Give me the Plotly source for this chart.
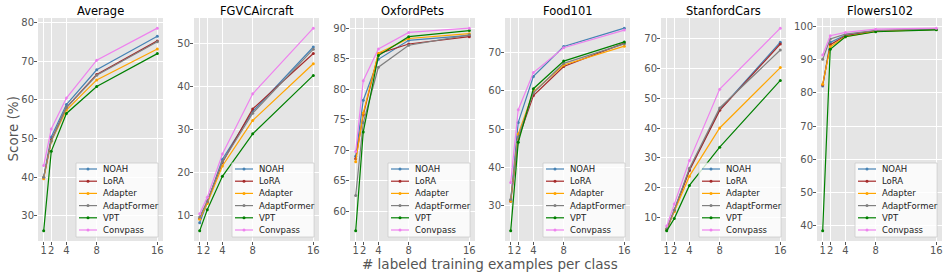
import plotly.graph_objects as go

shots = [1, 2, 4, 8, 16]
series_names = ["NOAH", "LoRA", "Adapter", "AdaptFormer", "VPT", "Convpass"]
series_colors = ["#4682b4", "#a52a2a", "#ffa500", "#808080", "#008000", "#ee82ee"]
dataset_titles = ["Average", "FGVCAircraft", "OxfordPets", "Food101", "StanfordCars", "Flowers102"]
ytick_steps = [10, 10, 5, 10, 10, 10]

# rows follow series_names order
average = [
    [40.0, 50.4, 58.8, 67.8, 76.5],
    [39.8, 49.6, 58.0, 66.6, 75.3],
    [39.6, 49.3, 57.4, 65.2, 73.2],
    [40.0, 49.4, 58.0, 66.4, 75.1],
    [26.1, 46.7, 56.5, 63.5, 72.0],
    [43.0, 52.5, 60.5, 70.3, 78.6],
]
fgvc_aircraft = [
    [8.3, 13.0, 23.1, 34.2, 49.2],
    [9.3, 13.2, 22.3, 34.8, 47.7],
    [9.1, 12.8, 21.5, 32.1, 45.3],
    [9.6, 13.3, 22.5, 33.8, 48.7],
    [6.4, 11.3, 19.1, 29.0, 42.6],
    [10.4, 14.2, 24.3, 38.3, 53.6],
]
oxford_pets = [
    [69.0, 78.2, 84.9, 88.0, 88.8],
    [68.6, 75.8, 85.8, 87.4, 88.6],
    [68.1, 76.1, 85.9, 88.3, 89.1],
    [62.6, 74.5, 83.6, 87.2, 88.9],
    [56.8, 73.0, 85.5, 88.6, 89.6],
    [69.8, 81.4, 86.6, 89.3, 90.0],
]
food101 = [
    [31.5, 51.8, 63.8, 71.6, 76.4],
    [31.2, 47.5, 58.8, 66.4, 72.5],
    [31.3, 48.8, 59.8, 66.8, 71.7],
    [31.7, 48.0, 59.5, 67.2, 72.3],
    [23.5, 46.6, 60.6, 67.8, 72.8],
    [36.1, 55.1, 64.8, 71.3, 75.9],
]
stanford_cars = [
    [6.1, 12.5, 26.1, 46.1, 68.7],
    [6.0, 12.3, 25.8, 45.9, 68.1],
    [6.2, 12.0, 23.9, 40.0, 60.2],
    [6.3, 12.6, 26.5, 46.7, 66.1],
    [5.6, 9.7, 20.8, 33.6, 55.9],
    [7.2, 14.6, 29.1, 53.0, 73.4],
]
flowers102 = [
    [82.1, 95.3, 97.5, 98.8, 99.2],
    [82.4, 94.6, 97.3, 98.8, 99.2],
    [82.6, 94.0, 97.0, 98.6, 99.2],
    [90.2, 96.3, 97.8, 98.9, 99.3],
    [38.3, 93.2, 97.0, 98.5, 99.1],
    [91.5, 97.3, 98.3, 99.3, 99.6],
]
all_data = [average, fgvc_aircraft, oxford_pets, food101, stanford_cars, flowers102]

W, H = 949, 277
panel_lefts = [38, 194, 350, 505, 661, 817]
panel_w = 125
plot_top, plot_bottom = 18, 241
FONT = "DejaVu Sans"
TICK_COLOR = "#555555"


def px(x):
    return x / W


def py(y):
    return 1 - y / H


fig = go.Figure()
layout = dict(
    width=W, height=H,
    margin=dict(l=0, r=0, t=0, b=0),
    paper_bgcolor="white",
    plot_bgcolor="#e5e5e5",
    showlegend=False,
    font=dict(family=FONT, size=10, color=TICK_COLOR),
)
shapes = []
annotations = []

xlo, xhi = min(shots), max(shots)
xpad = 0.05 * (xhi - xlo)

for p, (title, data, step) in enumerate(zip(dataset_titles, all_data, ytick_steps)):
    sfx = "" if p == 0 else str(p + 1)
    xa, ya = "x" + sfx, "y" + sfx
    for s, (name, color) in enumerate(zip(series_names, series_colors)):
        fig.add_trace(go.Scatter(
            x=shots, y=data[s], name=name, mode="lines+markers",
            line=dict(color=color, width=1.2),
            marker=dict(color=color, size=3),
            xaxis=xa, yaxis=ya, showlegend=False,
        ))
    vals = [v for row in data for v in row]
    ylo, yhi = min(vals), max(vals)
    ypad = 0.05 * (yhi - ylo)
    left = panel_lefts[p]
    layout["xaxis" + sfx] = dict(
        domain=[px(left), px(left + panel_w)], anchor=ya,
        range=[xlo - xpad, xhi + xpad], tickvals=shots, tickangle=0,
        showgrid=True, gridcolor="white", gridwidth=1, zeroline=False,
        showline=False, ticks="outside", ticklen=3, tickcolor=TICK_COLOR,
        ticklabelstandoff=-3,
        tickfont=dict(family=FONT, size=10, color=TICK_COLOR),
    )
    layout["yaxis" + sfx] = dict(
        domain=[py(plot_bottom), py(plot_top)], anchor=xa,
        range=[ylo - ypad, yhi + ypad], dtick=step, tick0=0,
        showgrid=True, gridcolor="white", gridwidth=1, zeroline=False,
        showline=False, ticks="outside", ticklen=3, tickcolor=TICK_COLOR,
        ticklabelstandoff=-2,
        tickfont=dict(family=FONT, size=10, color=TICK_COLOR),
    )
    # panel title
    annotations.append(dict(
        text=title, x=px(left + panel_w / 2), y=py(11), xref="paper", yref="paper",
        showarrow=False, xanchor="center", yanchor="middle",
        font=dict(family=FONT, size=11.5, color="black"),
    ))
    # legend box
    box_r = left + panel_w - 5
    box_l = box_r - 82
    box_t, box_b = 163, 237
    shapes.append(dict(
        type="rect", xref="paper", yref="paper",
        x0=px(box_l), x1=px(box_r), y0=py(box_b), y1=py(box_t),
        fillcolor="rgba(255,255,255,0.8)", line=dict(color="#cccccc", width=0.8),
    ))
    for s, (name, color) in enumerate(zip(series_names, series_colors)):
        cy = 169 + s * 12.2
        shapes.append(dict(
            type="line", xref="paper", yref="paper",
            x0=px(box_l + 3), x1=px(box_l + 21), y0=py(cy), y1=py(cy),
            line=dict(color=color, width=1.2),
        ))
        shapes.append(dict(
            type="circle", xref="paper", yref="paper",
            x0=px(box_l + 10.5), x1=px(box_l + 13.5), y0=py(cy + 1.5), y1=py(cy - 1.5),
            fillcolor=color, line=dict(color=color, width=0),
        ))
        annotations.append(dict(
            text=name, x=px(box_l + 25), y=py(cy), xref="paper", yref="paper",
            showarrow=False, xanchor="left", yanchor="middle",
            font=dict(family=FONT, size=8.5, color="#222222"),
        ))

annotations.append(dict(
    text="Score (%)", x=px(12), y=py((plot_top + plot_bottom) / 2),
    xref="paper", yref="paper", showarrow=False, textangle=-90,
    xanchor="center", yanchor="middle",
    font=dict(family=FONT, size=13.5, color=TICK_COLOR),
))
annotations.append(dict(
    text="# labeled training examples per class", x=px(490), y=py(264),
    xref="paper", yref="paper", showarrow=False,
    xanchor="center", yanchor="middle",
    font=dict(family=FONT, size=13.5, color=TICK_COLOR),
))

layout["shapes"] = shapes
layout["annotations"] = annotations
fig.update_layout(**layout)
fig.write_html(
    "out.html",
    config={"displayModeBar": False},
    post_script="document.body.style.margin='0';document.body.style.padding='0';"
                "document.body.style.overflow='hidden';",
)
